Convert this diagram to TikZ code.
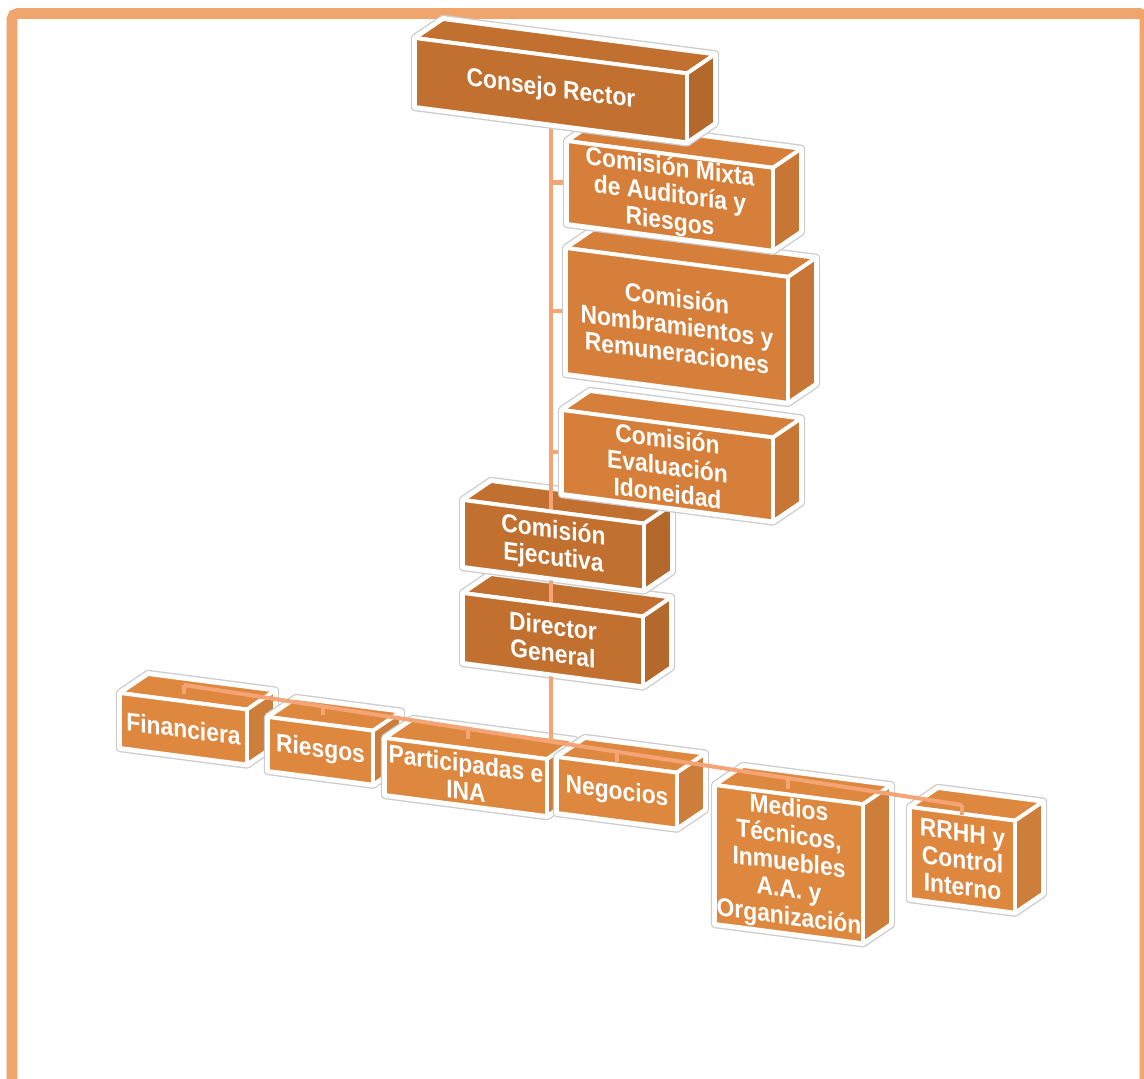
\documentclass[tikz,border=0pt]{standalone}
\usepackage{fontspec}
\setmainfont{Liberation Sans}
\usetikzlibrary{calc}
\definecolor{cdark}{HTML}{C1702F}
\definecolor{cmid}{HTML}{D67F3A}
\definecolor{clight}{HTML}{DE873F}
\definecolor{framec}{HTML}{EFA56C}
\definecolor{connc}{HTML}{F4A475}

% name, x, y, w, h  (pixel units, y downwards)
\newcommand\mkbox[5]{%
  \coordinate (#1-a) at (#2,#3);
  \coordinate (#1-b) at ({#2+#4},{#3+0.13*#4});
  \coordinate (#1-c) at ({#2+#4},{#3+0.13*#4+#5});
  \coordinate (#1-d) at (#2,{#3+#5});
  \coordinate (#1-e) at ($(#1-a)+(28,-19)$);
  \coordinate (#1-f) at ($(#1-b)+(28,-19)$);
  \coordinate (#1-g) at ($(#1-c)+(28,-19)$);
  \coordinate (#1-m) at ($(#1-a)!0.5!(#1-c)$);
  \coordinate (#1-l) at ($(#1-a)!0.5!(#1-d)$);
}
% name, colour
\newcommand\boxback[2]{%
  \draw[halo] (#1-a)--(#1-e)--(#1-f)--(#1-g)--(#1-c)--(#1-d)--cycle;
  \draw[halotwo] (#1-a)--(#1-e)--(#1-f)--(#1-g)--(#1-c)--(#1-d)--cycle;
  \filldraw[face, fill=#2] (#1-a)--(#1-e)--(#1-f)--(#1-b)--cycle;
  \filldraw[face, fill=#2!93!black] (#1-b)--(#1-f)--(#1-g)--(#1-c)--cycle;
}
% name, colour, text
\newcommand\boxfront[3]{%
  \filldraw[face, fill=#2] (#1-a)--(#1-b)--(#1-c)--(#1-d)--cycle;
  \node[lbl] (#1) at (#1-m) {#3};
}

\begin{document}
\begin{tikzpicture}[x=0.02cm,y=-0.02cm,
  halo/.style={fill=white, draw=black!20, line width=4.8pt, line join=round},
  halotwo/.style={draw=white, line width=3.3pt, line join=round},
  face/.style={draw=white, line width=2.2pt, line join=round},
  lbl/.style={text=white, font=\fontsize{13}{13.8}\selectfont\bfseries, align=center, inner sep=0pt, yslant=-0.13, yscale=1.12},
  conn/.style={draw=connc, line width=2.3pt},
  frame/.style={draw=framec, line width=6pt, rounded corners=3pt}]

\useasboundingbox (0,0) rectangle (1144,1079);
\draw[frame] (12,13.5) rectangle (1145,1100);

% geometry
\mkbox{cr}{415}{38}{272}{69}
\mkbox{cm}{567}{141}{206}{83}
\mkbox{cn}{566}{248}{222}{126}
\mkbox{ci}{562}{410}{211}{84}
\mkbox{ce}{463}{500}{181}{67}
\mkbox{dg}{463}{593}{180}{70}
\mkbox{fi}{120}{693}{127}{55}
\mkbox{ri}{268}{717}{105}{54}
\mkbox{pa}{385}{738}{162}{57}
\mkbox{ne}{557}{757}{120}{56}
\mkbox{me}{715}{785}{148}{139}
\mkbox{rh}{910}{807}{105}{92}

% bottom row
\boxback{fi}{clight}\boxfront{fi}{clight}{Financiera}
\boxback{ri}{clight}\boxfront{ri}{clight}{Riesgos}
\boxback{pa}{clight}\boxfront{pa}{clight}{Participadas e\\INA}
\boxback{ne}{clight}\boxfront{ne}{clight}{Negocios}
\boxback{me}{clight}\boxfront{me}{clight}{Medios\\Técnicos,\\Inmuebles\\A.A. y\\Organización}
\boxback{rh}{clight}\boxfront{rh}{clight}{RRHH y\\Control\\Interno}

% bottom connector
\coordinate (bs) at (184,685);
\coordinate (be) at (962,805);
\coordinate (vb) at ($(bs)!0.472!(be)$);
\coordinate (vt) at (vb |- cr-m);
\draw[conn] (bs) -- (be);
\draw[conn] (bs) -- ++(0,9);
\draw[conn] ($(bs)!0.179!(be)$) -- ++(0,9);
\draw[conn] ($(bs)!0.365!(be)$) -- ++(0,10);
\draw[conn] ($(bs)!0.557!(be)$) -- ++(0,10);
\draw[conn] ($(bs)!0.776!(be)$) -- ++(0,11);
\draw[conn] (be) -- ++(0,10);

% director & ejecutiva (back)
\boxback{dg}{cdark}
\boxback{ce}{cdark}

% vertical connector and ticks
\draw[conn] (vt) -- (vb);
\draw[conn] (vt |- cm-l) -- (cm-l);
\draw[conn] (vt |- cn-l) -- (cn-l);
\draw[conn] (vt |- ci-l) -- (ci-l);

\boxfront{dg}{cdark}{Director\\General}
\boxfront{ce}{cdark}{Comisión\\Ejecutiva}

% upper committees
\boxback{ci}{cmid}\boxfront{ci}{cmid}{Comisión\\Evaluación\\Idoneidad}
\boxback{cn}{cmid}\boxfront{cn}{cmid}{Comisión\\Nombramientos y\\Remuneraciones}
\boxback{cm}{cmid}\boxfront{cm}{cmid}{Comisión Mixta\\de Auditoría y\\Riesgos}
\boxback{cr}{cdark}\boxfront{cr}{cdark}{Consejo Rector}

\end{tikzpicture}
\end{document}
